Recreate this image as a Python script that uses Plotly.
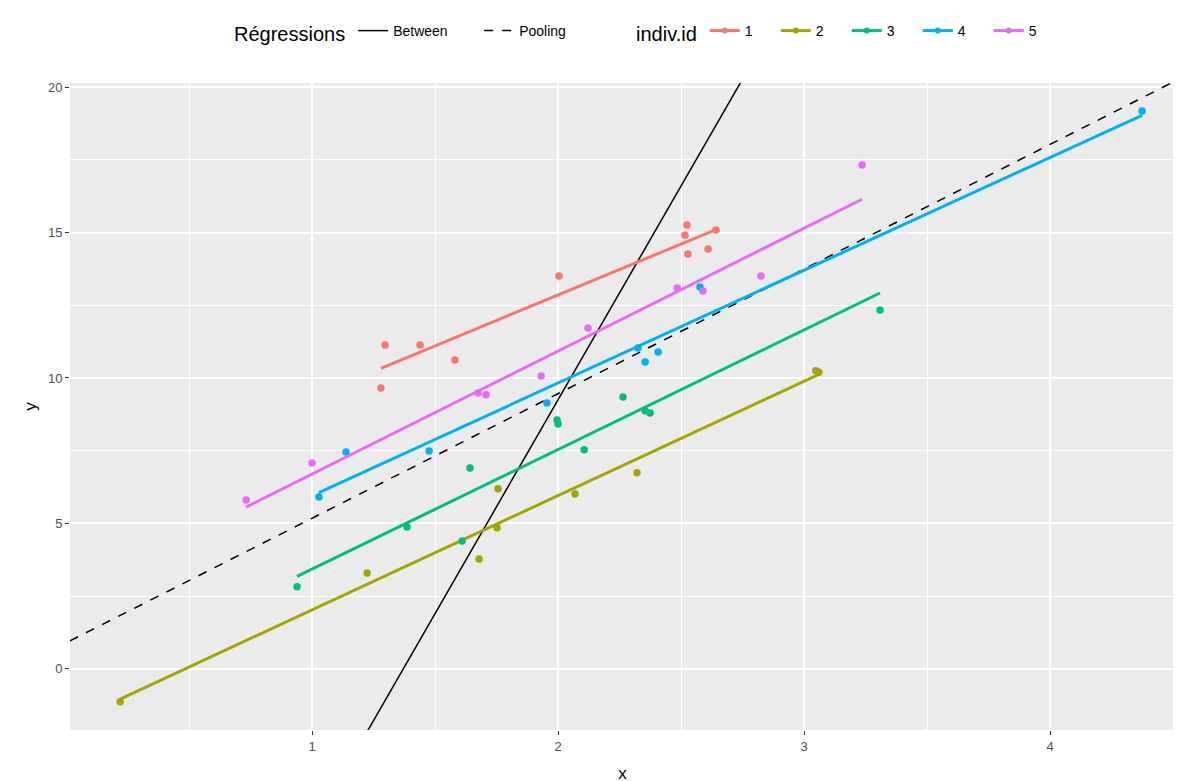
import numpy as np
import plotly.graph_objects as go

# ---- data ----
indiv_ids = ["1", "2", "3", "4", "5"]
colors = ["#F8766D", "#A3A500", "#00BF7D", "#00B0F6", "#E76BF3"]

id1_x = [1.280, 1.297, 1.439, 1.581, 2.004, 2.516, 2.524, 2.528, 2.610, 2.642]
id1_y = [9.66, 11.13, 11.13, 10.62, 13.51, 14.91, 15.26, 14.26, 14.43, 15.09]

id2_x = [0.220, 1.224, 1.679, 1.752, 1.756, 2.069, 2.321, 3.048, 3.060]
id2_y = [-1.13, 3.30, 3.78, 4.85, 6.19, 6.01, 6.74, 10.25, 10.20]

id3_x = [0.939, 1.386, 1.610, 1.642, 1.996, 2.000, 2.106, 2.264, 2.354, 2.374, 3.309]
id3_y = [2.82, 4.88, 4.40, 6.91, 8.56, 8.42, 7.53, 9.35, 8.87, 8.80, 12.34]

id4_x = [1.028, 1.138, 1.476, 1.955, 2.325, 2.354, 2.407, 2.577, 4.374]
id4_y = [5.91, 7.46, 7.49, 9.14, 11.03, 10.55, 10.89, 13.13, 19.18]

id5_x = [0.732, 1.000, 1.675, 1.707, 1.931, 2.122, 2.484, 2.589, 2.825, 3.236]
id5_y = [5.81, 7.08, 9.48, 9.42, 10.07, 11.72, 13.09, 12.99, 13.51, 17.32]

# regression lines (intercept, slope)
between_coef = [-20.15, 14.7]
pooling_coef = [0.896, 4.283]

x_range = [0.016, 4.508]
y_range = [-2.10, 20.14]
x_ticks = [1, 2, 3, 4]
y_ticks = [0, 5, 10, 15, 20]

groups_x = [id1_x, id2_x, id3_x, id4_x, id5_x]
groups_y = [id1_y, id2_y, id3_y, id4_y, id5_y]

FONT = "Liberation Sans, Arial, sans-serif"
W, H = 1182, 781
OFF = 8  # page body margin

fig = go.Figure()

# reference lines (ablines) across the panel
xs_full = np.array(x_range)
fig.add_trace(go.Scatter(
    x=xs_full, y=between_coef[0] + between_coef[1] * xs_full,
    mode="lines", line=dict(color="black", width=1.5),
    name="Between", legend="legend", hoverinfo="skip"))
fig.add_trace(go.Scatter(
    x=xs_full, y=pooling_coef[0] + pooling_coef[1] * xs_full,
    mode="lines", line=dict(color="black", width=1.5, dash="dash"),
    name="Pooling", legend="legend", hoverinfo="skip"))

for gid, col, gx, gy in zip(indiv_ids, colors, groups_x, groups_y):
    gx = np.array(gx)
    gy = np.array(gy)
    slope, intercept = np.polyfit(gx, gy, 1)
    lx = np.array([gx.min(), gx.max()])
    fig.add_trace(go.Scatter(
        x=gx, y=gy, mode="markers",
        marker=dict(color=col, size=7.5),
        legendgroup=gid, showlegend=False, name=gid))
    fig.add_trace(go.Scatter(
        x=lx, y=intercept + slope * lx, mode="lines",
        line=dict(color=col, width=3),
        legendgroup=gid, showlegend=False, name=gid, hoverinfo="skip"))
    # legend key (line + point)
    fig.add_trace(go.Scatter(
        x=[None], y=[None], mode="lines+markers",
        line=dict(color=col, width=3), marker=dict(color=col, size=6),
        legendgroup=gid, name=gid, legend="legend2"))

axis_common = dict(
    showgrid=True, gridcolor="white", gridwidth=1.6,
    zeroline=False, showline=False, automargin=False,
    ticks="outside", ticklen=4, tickwidth=1, tickcolor="#333333",
    tickfont=dict(family=FONT, size=13, color="#4D4D4D"),
)

# desired panel in page pixels: left 70, right 1175, top 83, bottom 730
ml = 70 - OFF
mt = 83 - OFF
mr = W - ml - (1175 - 70)
mb = H - mt - (730 - 83)

leg_y = 1 - (32 - OFF + 1) / H

fig.update_layout(
    width=W, height=H,
    margin=dict(l=ml, r=mr, t=mt, b=mb, autoexpand=False),
    paper_bgcolor="white", plot_bgcolor="#EBEBEB",
    font=dict(family=FONT, color="black"),
    xaxis=dict(range=x_range, tickvals=x_ticks,
               minor=dict(showgrid=True, gridcolor="white", gridwidth=0.7,
                          tickvals=[0.5, 1.5, 2.5, 3.5, 4.5]),
               title=dict(text="x", font=dict(size=17), standoff=14),
               **axis_common),
    yaxis=dict(range=y_range, tickvals=y_ticks,
               minor=dict(showgrid=True, gridcolor="white", gridwidth=0.7,
                          tickvals=[-2.5, 2.5, 7.5, 12.5, 17.5]),
               title=dict(text="y", font=dict(size=17), standoff=6),
               **axis_common),
    legend=dict(
        orientation="h", xref="container", yref="container",
        x=(232 - OFF) / W, y=leg_y, xanchor="left", yanchor="middle",
        title=dict(text="Régressions", side="left", font=dict(size=20)),
        font=dict(size=14), bgcolor="rgba(0,0,0,0)",
        traceorder="normal", entrywidth=81, itemwidth=30,
    ),
    legend2=dict(
        orientation="h", xref="container", yref="container",
        x=(634 - OFF) / W, y=leg_y, xanchor="left", yanchor="middle",
        title=dict(text="indiv.id", side="left", font=dict(size=20)),
        font=dict(size=14), bgcolor="rgba(0,0,0,0)",
        traceorder="normal", entrywidth=26, itemwidth=30,
    ),
)

fig.write_html("out.html")
